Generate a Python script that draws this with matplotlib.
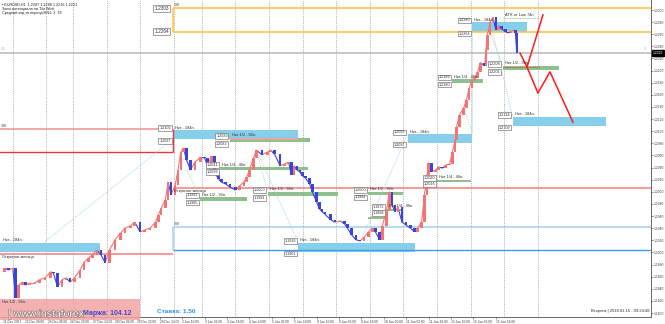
import matplotlib
matplotlib.use("Agg")
import matplotlib.pyplot as plt
import matplotlib.patheffects as pe
from matplotlib.patches import Rectangle

plt.rcParams['font.family'] = ['Liberation Sans', 'DejaVu Sans']

# EURUSD H1 price samples (bar index, close)
bar_idx = [0, 1, 4, 7, 9, 11, 14, 16, 19, 23,
           26, 30, 34, 36, 39, 42, 45, 48, 51, 55,
           58, 61, 64, 67, 70, 73, 76, 80, 84, 87,
           91, 94, 98, 101, 105, 109, 111, 113, 116, 118,
           120, 123, 125, 127, 129, 131, 134, 137, 141, 144,
           146, 149, 151, 154, 156, 159, 162, 166, 169, 172,
           174, 176, 179, 181, 185, 189, 191, 194, 198, 201,
           204, 206, 208, 210, 212, 214, 216, 219, 221, 224,
           226, 228, 230, 234, 237, 241, 244, 246, 249, 252,
           255, 258, 261, 264, 266, 269, 271, 274, 276, 278,
           280, 282, 285, 288, 291, 294, 296, 299, 301, 303,
           304, 306, 309, 311, 314, 316, 319, 321, 323, 324,
           326, 329, 331, 333, 335, 337, 339, 341, 344, 345,
           346, 348, 350, 352, 354, 356, 359, 361, 363, 365,
           366, 367]
close = [1.1868, 1.1874, 1.1871, 1.1874, 1.1825, 1.1846, 1.1851, 1.1846, 1.1850, 1.1850,
         1.1855, 1.1858, 1.1868, 1.1866, 1.1843, 1.1855, 1.1858, 1.1851, 1.1858, 1.1871,
         1.1884, 1.1891, 1.1896, 1.1904, 1.1896, 1.1883, 1.1904, 1.1921, 1.1932, 1.1940,
         1.1944, 1.1950, 1.1934, 1.1937, 1.1940, 1.1950, 1.1962, 1.1973, 1.1987, 1.2016,
         1.1995, 1.2011, 1.2036, 1.2066, 1.2072, 1.2053, 1.2036, 1.2049, 1.2057, 1.2056,
         1.2044, 1.2059, 1.2033, 1.2021, 1.2016, 1.2013, 1.2008, 1.2003, 1.2010, 1.2016,
         1.2024, 1.2036, 1.2056, 1.2069, 1.2061, 1.2066, 1.2069, 1.2062, 1.2043, 1.2046,
         1.2049, 1.2028, 1.2043, 1.2036, 1.2033, 1.2026, 1.2023, 1.2013, 1.2000, 1.1983,
         1.1972, 1.1967, 1.1963, 1.1954, 1.1950, 1.1952, 1.1947, 1.1940, 1.1929, 1.1921,
         1.1919, 1.1925, 1.1934, 1.1940, 1.1934, 1.1921, 1.1944, 1.1970, 1.2000, 1.1978,
         1.1967, 1.1975, 1.1950, 1.1945, 1.1940, 1.1934, 1.1940, 1.1950, 1.1995, 1.2028,
         1.2048, 1.2033, 1.2036, 1.2041, 1.2039, 1.2044, 1.2046, 1.2066, 1.2086, 1.2107,
         1.2127, 1.2138, 1.2152, 1.2171, 1.2185, 1.2188, 1.2198, 1.2213, 1.2208, 1.2234,
         1.2259, 1.2280, 1.2288, 1.2267, 1.2274, 1.2269, 1.2264, 1.2262, 1.2265, 1.2267,
         1.2262, 1.2229]

# daily separators and time axis
day_starts = [7, 31, 50, 74, 98, 122, 142, 166, 190, 214, 238, 262, 286, 310, 334, 358, 382]
time_labels = ["21 Dec 2017", "22 Dec 09:00", "26 Dec 06:00", "26 Dec 22:00", "27 Dec 14:00",
               "28 Dec 06:00", "28 Dec 22:00", "29 Dec 14:00", "2 Jan 10:00", "3 Jan 02:00",
               "3 Jan 18:00", "4 Jan 10:00", "5 Jan 02:00", "5 Jan 18:00", "8 Jan 10:00",
               "9 Jan 02:00", "9 Jan 18:00", "10 Jan 10:00", "11 Jan 02:00", "11 Jan 18:00",
               "12 Jan 10:00", "15 Jan 02:00", "15 Jan 18:00"]
time_step = 16
price_ticks = [1.2300, 1.2280, 1.2260, 1.2240, 1.2220, 1.2200, 1.2180, 1.2160, 1.2140,
               1.2120, 1.2100, 1.2080, 1.2060, 1.2040, 1.2020, 1.2000, 1.1980, 1.1960,
               1.1940, 1.1920, 1.1900, 1.1880, 1.1860, 1.1840, 1.1820, 1.1800]

# zones: start bar, end bar, low, high, caption, value tags shown
blue_zones = [
    (-2.5, 69, 1.1901, 1.1916, "Нкз - 184п.", False),
    (121.4, 211, 1.2087, 1.2102, "Нкз - 184п.", True),
    (211, 294, 1.1901, 1.1916, "Нкз - 184п.", True),
    (289, 335, 1.2081, 1.2095, "Нкз - 184п.", True),
    (335, 374, 1.2264, 1.2280, "Нкз - 184п.", True),
    (364, 431, 1.2109, 1.2124, "Нкз - 184п.", True),
]
green_zones = [
    (162, 219, 1.2082, 1.2089, "Нкз 1/2 - 92п.", True),
    (155, 218, 1.2036, 1.2041, "Нкз 1/4 - 46п.", True),
    (141, 174, 1.1985, 1.1991, "Нкз 1/2 - 92п.", True),
    (189, 239, 1.1993, 1.2000, "Нкз 1/2 - 92п.", True),
    (261, 286, 1.1994, 1.2000, "Нкз 1/2 - 92п.", True),
    (274, 286, 1.1968, 1.1972, "Нкз 1/4 - 46п.", True),
    (261, 274, 1.1955, 1.1959, "", False),
    (310, 334, 1.2016, 1.2020, "Нкз 1/4 - 46п.", True),
    (321, 343, 1.2180, 1.2186, "Нкз 1/4 - 46п.", True),
    (357, 397, 1.2201, 1.2208, "Нкз 1/2 - 92п.", True),
]
pink_line = (162, 211, 1.2087)

month_start = 121.4
red_box = (1.2066, 1.2104)       # previous month range
orange_box = (1.2264, 1.2303)    # current month range (top)
blue_box = (1.1904, 1.1942)      # current month range (bottom)
month_open = [(-3, 121.4, 1.1897), (121.4, 470, 1.2006)]
last_price = 1.2229

atr_level = (357, 383, 1.2287)
low_level = (357, 383, 1.2206)
fc_up_bars = [369.3, 374.3, 385.7]
fc_up_prices = [1.2229, 1.2206, 1.2292]
fc_dn_bars = [374.3, 382.1, 390.7, 407.1]
fc_dn_prices = [1.2206, 1.2163, 1.2198, 1.2115]

# thin dotted connectors: (bar0, price0, bar1, price1, kind)
links = [
    (29, 1.1916, 121.4, 1.2087, 'b'),
    (181, 1.2069, 211, 1.1916, 'b'),
    (255, 1.1916, 289, 1.2095, 'b'),
    (335, 1.2264, 335, 1.2095, 'b'),
    (350, 1.2262, 364, 1.2124, 'b'),
    (131, 1.2036, 141, 1.1991, 'g'),
    (181, 1.2069, 189, 1.2000, 'g'),
    (348, 1.2262, 357, 1.2208, 'g'),
    (329, 1.2138, 335, 1.2100, 'g'),
]

UP, DOWN = '#f47474', '#3a44d8'
SKY, GREEN = '#87ceeb', '#8fbf8f'

fig = plt.figure(figsize=(6.65, 3.24), dpi=100)
ax = fig.add_axes([0, 7 / 324, 651 / 665, 317 / 324])
ax.set_xlim(-2.14, 462.86)
ax.set_ylim(1.17935, 1.23165)

for d in day_starts:
    ax.axvline(d, color='#a0a0a0', lw=0.6, ls=(0, (1, 1.2)), zorder=0)


def value_tag(x, y, dy=0.0, size=2.7):
    ax.annotate(f"{y:.4f}", (x, y), xytext=(-1.5, dy), textcoords='offset points',
                ha='right', va='center', fontsize=size, color='#303030', zorder=6,
                bbox=dict(boxstyle='square,pad=0.2', fc='white', ec='#7a7a7a', lw=0.5))


def zone(z, color):
    x0, x1, lo, hi, caption, tags = z
    ax.add_patch(Rectangle((x0, lo), x1 - x0, hi - lo, fc=color, ec='none', zorder=1))
    if caption:
        ax.annotate(caption, (max(x0, -1.5), hi), xytext=(1.5, 0.3), textcoords='offset points',
                    ha='left', va='bottom', fontsize=2.8, color='#2a2a2a', zorder=6)
    if tags:
        value_tag(x0, hi, dy=1.3)
        value_tag(x0, lo, dy=-1.3)


for z in blue_zones:
    zone(z, SKY)
for z in green_zones:
    zone(z, GREEN)
ax.hlines(pink_line[2], pink_line[0], pink_line[1], color='#f4a0a0', lw=1.2, zorder=2)

# month boxes
ax.hlines(red_box[1], -3, month_start, color='#f49a9a', lw=1.2, zorder=2)
ax.hlines(red_box[0], -3, month_start, color='#ee3535', lw=1.0, zorder=2)
ax.vlines(month_start, red_box[0], red_box[1], color='#ee3535', lw=1.0, zorder=2)
ax.hlines(orange_box, month_start, 470, color='#ffc24d', lw=1.2, zorder=2)
ax.vlines(month_start, orange_box[0], orange_box[1], color='#ffc24d', lw=1.2, zorder=2)
ax.hlines(blue_box[1], month_start, 470, color='#a9d3f5', lw=1.2, zorder=2)
ax.hlines(blue_box[0], month_start, 470, color='#3d9bff', lw=1.0, zorder=2)
ax.vlines(month_start, blue_box[0], blue_box[1], color='#a9d3f5', lw=1.2, zorder=2)
for v in orange_box:
    value_tag(month_start - 1.5, v, size=3.4)
ax.annotate("398", (-2, red_box[1]), xytext=(0.5, 0.8), textcoords='offset points',
            fontsize=2.6, color='#404040', va='bottom')
ax.annotate("388", (month_start, orange_box[1]), xytext=(1, 0.8), textcoords='offset points',
            fontsize=2.6, color='#404040', va='bottom')
ax.annotate("388", (month_start, blue_box[1]), xytext=(1, 0.8), textcoords='offset points',
            fontsize=2.6, color='#404040', va='bottom')

for x0, x1, y in month_open:
    ax.hlines(y, x0, x1, color='#f27a7a', lw=1.1, zorder=2)
    ax.annotate("Открытие месяца", (max(x0, -1.5), y), xytext=(1, -0.5), textcoords='offset points',
                ha='left', va='top', fontsize=2.8, color='#2a2a2a', zorder=6)

# current price line
ax.axhline(last_price, color='#c8c8c8', lw=1.4, zorder=1)
ax.annotate("30", (-1.5, last_price), xytext=(0, 1.5), textcoords='offset points',
            fontsize=3, color='#b0b0b0', va='bottom')
ax.annotate("3", (458, last_price), xytext=(0, 1.5), textcoords='offset points',
            fontsize=3, color='#b0b0b0', va='bottom')

for b0, p0, b1, p1, kind in links:
    col = '#9fd0ee' if kind == 'b' else '#a8d8a8'
    ax.plot([b0, b1], [p0, p1], color=col, lw=0.6, ls=(0, (1, 1)), zorder=2)

# price candles: each sample opens at the previous close
opens = close[:-1]
closes = close[1:]
colors = [UP if c >= o else DOWN for o, c in zip(opens, closes)]
for i, col in enumerate(colors):
    ax.plot(bar_idx[i:i + 2], close[i:i + 2], color=col, lw=0.8, zorder=3,
            solid_capstyle='butt')
bottoms = [min(o, c) for o, c in zip(opens, closes)]
heights = [max(abs(c - o), 0.00008) for o, c in zip(opens, closes)]
ax.bar(bar_idx[1:], heights, bottom=bottoms, width=1.7, color=colors, lw=0, zorder=3)

# ATR / forecast
ax.hlines(atr_level[2], atr_level[0], atr_level[1], color='#6cc06c', lw=0.6, ls=(0, (1, 1)), zorder=4)
ax.hlines(low_level[2], low_level[0], low_level[1], color='#e03030', lw=0.6, ls=(0, (1, 1)), zorder=4)
ax.annotate("ATR от Low 74п.", (atr_level[0], atr_level[2]), xytext=(1.5, 0.3),
            textcoords='offset points', fontsize=2.8, color='#2a2a2a', va='bottom')
ax.plot(fc_up_bars, fc_up_prices, color='#ff1a1a', lw=1.1, zorder=5)
ax.plot(fc_dn_bars, fc_dn_prices, color='#ff1a1a', lw=1.1, zorder=5)

# axes styling
for s in ['left', 'top']:
    ax.spines[s].set_visible(False)
for s in ['right', 'bottom']:
    ax.spines[s].set_color('#505050')
    ax.spines[s].set_linewidth(0.6)
ax.yaxis.tick_right()
ax.set_yticks(price_ticks)
ax.set_yticklabels([f"{p:.4f}" for p in price_ticks])
ax.tick_params(axis='y', labelsize=2.4, length=1.5, width=0.4, pad=0.8, colors='#404040')
ax.set_xticks([time_step * k for k in range(len(time_labels))])
ax.set_xticklabels(time_labels)
for lbl in ax.get_xticklabels():
    lbl.set_ha('left')
ax.tick_params(axis='x', labelsize=2.3, length=1.5, width=0.4, pad=0.8, colors='#404040')

ax.annotate(f"{last_price:.4f}", (1.0, last_price), xycoords=ax.get_yaxis_transform(),
            xytext=(1.2, 0), textcoords='offset points', ha='left', va='center',
            fontsize=2.4, color='white', zorder=7,
            bbox=dict(boxstyle='square,pad=0.25', fc='black', ec='black'))

# header
fig.text(0.003, 0.992, "▪ EURUSD,H1  1.2287 1.2288 1.2216 1.2221", fontsize=2.7,
         va='top', color='#202020')
fig.text(0.003, 0.978, "Зоны потенциала на Т/м Wink", fontsize=2.7, va='top', color='#202020')
fig.text(0.003, 0.965, "Средний ход за период MN1: 3  39", fontsize=2.7, va='top', color='#202020')

# footer / watermark
ax.text(0.997, 0.012, "Вторник | 2018.01.16 - 09:24:48", transform=ax.transAxes,
        ha='right', va='bottom', fontsize=3, color='#303030')
fig.patches.append(Rectangle((0, 4 / 324), 140 / 665, 21 / 324, transform=fig.transFigure,
                             fc='#f2a4a4', ec='none', alpha=0.85, zorder=8))
fig.text(0.003, 0.074, "Нкз 1/2 - 92п.", fontsize=2.8, va='top', color='#303030', zorder=9)
fig.text(0.012, 0.022, "[ www.instaforex", fontsize=7.5, color='white', zorder=9,
         path_effects=[pe.withStroke(linewidth=0.8, foreground='#8a6a6a')])
fig.text(0.125, 0.028, "Маржа: 104.12", fontsize=5, color='#4a4ac8', fontweight='bold', zorder=10)
fig.text(0.236, 0.034, "Ставка: 1.50", fontsize=4.6, color='#2b8cf0', fontweight='bold', zorder=10)

fig.savefig("out.png", dpi=100, facecolor='white')
